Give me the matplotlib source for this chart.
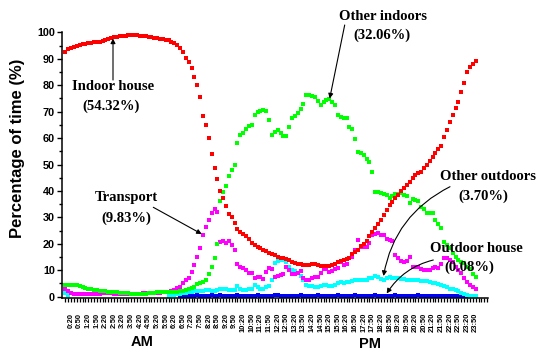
import numpy as np
import matplotlib
matplotlib.use("Agg")
import matplotlib.pyplot as plt

nan = np.nan

# 10-minute slots, 0:00 .. 23:50 (144 slots)
slot_minutes = list(range(0, 1440, 10))
label_slots = list(range(2, 144, 3))  # 0:20, 0:50, ... 23:50
tick_labels = ["%d:%02d" % (slot_minutes[i] // 60, slot_minutes[i] % 60) for i in label_slots]

indoor_house = [
    92.7, 93.5, 94.0, 94.5, 94.8, 95.2, 95.5, 95.7, 95.9, 96.1,
    96.3, 96.4, 96.5, 96.8, 97.1, 97.4, 97.8, 98.1, 98.3, 98.5,
    98.6, 98.7, 98.8, 98.8, 98.8, 98.8, 98.7, 98.7, 98.6, 98.4,
    98.2, 98.0, 97.8, 97.6, 97.4, 97.2, 96.9, 96.4, 95.9, 95.3,
    94.2, 92.7, 90.3, 88.8, 86.5, 83.1, 80.1, 75.6, 68.4, 65.0,
    60.1, 54.0, 48.7, 44.4, 39.9, 37.2, 34.2, 31.4, 30.0, 27.8,
    25.5, 24.4, 23.7, 22.8, 22.0, 20.5, 19.4, 18.9, 18.3, 17.8,
    17.2, 16.6, 16.2, 15.8, 15.2, 14.8, 14.5, 14.1, 13.7, 13.3,
    12.9, 12.5, 12.3, 12.0, 11.9, 12.0, 12.2, 12.2, 12.0, 11.8,
    11.6, 11.7, 11.7, 11.9, 12.3, 13.0, 13.5, 13.8, 14.3, 14.8,
    16.0, 16.8, 17.8, 19.0, 19.8, 21.0, 22.8, 24.5, 26.0, 27.5,
    29.0, 31.0, 32.8, 34.5, 36.0, 37.5, 38.5, 39.8, 41.0, 42.2,
    43.5, 45.0, 46.0, 46.8, 47.3, 48.5, 49.8, 51.5, 53.0, 54.5,
    55.8, 57.0, 60.3, 63.0, 66.2, 68.8, 71.5, 73.8, 77.6, 80.8,
    84.8, 86.7, 88.1, 89.3]

other_indoors = [
    4.6, 4.5, 4.5, 4.4, 4.3, 4.0, 3.7, 3.4, 3.0, 2.8,
    2.6, 2.4, 2.2, 2.1, 2.0, 1.9, 1.8, 1.7, 1.6, 1.5,
    1.4, 1.3, 1.3, 1.2, 1.2, 1.2, 1.2, 1.2, 1.2, 1.3,
    1.4, 1.5, 1.6, 1.7, 1.8, 1.8, 1.8, 1.8, 1.8, 1.9,
    2.0, 2.2, 2.5, 2.8, 3.2, 3.8, 4.7, 5.0, 5.6, 6.5,
    8.4, 11.3, 14.8, 20.0, 36.3, 39.6, 41.9, 45.8, 47.9, 49.8,
    58.0, 61.2, 62.0, 63.3, 64.6, 64.8, 68.8, 70.0, 70.3, 70.6,
    70.4, 66.9, 61.2, 62.4, 63.1, 62.0, 60.8, 60.8, 64.3, 67.5,
    68.5, 69.4, 70.9, 73.0, 76.3, 76.3, 76.0, 75.7, 74.0, 72.5,
    73.5, 74.4, 74.7, 73.5, 72.5, 68.8, 68.0, 67.5, 67.5, 64.3,
    63.3, 59.5, 54.8, 54.5, 53.6, 52.0, 51.1, 47.3, 39.7, 39.5,
    39.1, 38.8, 38.4, 37.2, 38.0, 38.8, 39.0, 39.1, 38.5, 38.1,
    35.5, 36.8, 36.6, 36.3, 34.0, 33.0, 31.5, 31.5, 31.5, 29.0,
    27.5, 25.8, 20.8, 19.5, 18.3, 16.5, 15.2, 13.8, 13.2, 12.6,
    11.3, 10.5, 8.5, 7.5]

transport = [
    3.0, 2.0, 1.4, 1.2, 1.1, 1.0, 1.0, 1.1, 1.2, 1.2,
    1.2, 1.1, 1.2, 1.3, 1.4, 1.4, 1.3, 1.2, 1.2, 1.2,
    1.2, 1.2, 1.2, 1.2, 1.2, 1.2, 1.2, 1.3, 1.3, 1.3,
    1.4, 1.4, 1.5, 1.5, 1.6, 1.7, 1.8, 2.2, 2.7, 3.2,
    3.7, 5.0, 6.5, 7.0, 9.4, 11.9, 15.0, 18.3, 23.3, 26.4,
    29.2, 31.7, 33.0, 32.1, 20.8, 21.0, 20.4, 21.1, 19.5, 17.6,
    12.2, 11.3, 10.7, 10.0, 8.8, 8.8, 6.9, 7.3, 7.5, 6.6,
    9.4, 10.7, 10.5, 7.5, 7.9, 8.1, 8.4, 11.1, 10.0, 8.6,
    8.4, 8.8, 9.6, 7.2, 6.2, 6.5, 7.0, 7.3, 7.5, 8.8,
    10.5, 10.3, 9.2, 9.8, 10.5, 10.7, 13.0, 11.9, 12.5, 14.5,
    15.1, 17.6, 21.5, 18.7, 18.9, 18.9, 20.5, 23.3, 23.6, 24.0,
    23.5, 23.3, 22.0, 21.4, 21.0, 15.7, 14.5, 13.5, 13.2, 13.5,
    15.0, 11.3, 11.3, 11.3, 10.5, 10.0, 10.0, 10.2, 11.0, 11.3,
    10.7, 12.5, 14.5, 14.5, 14.0, 13.2, 11.3, 10.0, 8.8, 7.0,
    5.5, 4.4, 3.5, 3.1]

other_outdoors = [
    1.5, 0.6, nan, nan, nan, nan, nan, nan, nan, nan,
    nan, nan, nan, nan, nan, nan, nan, nan, nan, nan,
    nan, nan, nan, nan, nan, nan, nan, nan, nan, nan,
    nan, nan, nan, nan, nan, nan, 0.4, 0.6, 0.8, 1.0,
    1.2, 1.4, 1.5, 1.6, 1.8, 2.0, 2.1, 2.2, 2.3, 2.5,
    2.7, 2.3, 2.1, 2.6, 3.1, 3.1, 3.1, 2.7, 2.5, 2.7,
    4.0, 2.9, 2.6, 2.5, 2.8, 3.1, 4.4, 3.8, 3.1, 3.1,
    3.5, 4.0, 6.2, 12.6, 13.4, 13.8, 14.0, 13.2, 11.1, 10.0,
    9.6, 9.0, 8.0, 6.2, 4.4, 4.2, 4.0, 3.8, 3.7, 4.2,
    4.4, 4.3, 4.1, 4.0, 4.5, 5.2, 5.4, 5.0, 5.6, 5.5,
    6.0, 6.2, 6.3, 6.3, 6.5, 6.5, 6.9, 7.2, 7.8, 7.4,
    6.6, 6.5, 7.0, 7.3, 7.2, 7.0, 6.9, 6.8, 6.6, 6.5,
    6.5, 6.4, 6.5, 6.3, 6.1, 6.0, 5.8, 5.5, 5.2, 5.0,
    4.7, 4.4, 4.0, 3.5, 3.1, 2.8, 2.4, 2.0, 1.5, 1.0,
    0.6, 0.4, 0.2, 0.1]

outdoor_house = [
    nan, nan, nan, nan, nan, nan, nan, nan, nan, nan,
    nan, nan, nan, nan, nan, nan, nan, nan, nan, nan,
    nan, nan, nan, nan, nan, nan, nan, nan, nan, nan,
    nan, nan, nan, nan, nan, nan, nan, nan, nan, nan,
    0.3, 0.3, 0.4, 0.4, 0.3, 0.4, 0.5, 0.4, 0.4, 0.3,
    0.4, 0.5, 0.4, 0.4, 0.5, 0.4, 0.4, 0.3, 0.4, 0.4,
    0.5, 0.4, 0.4, 0.4, 0.3, 0.4, 0.4, 0.5, 0.4, 0.4,
    0.4, 0.3, 0.4, 0.5, 0.5, 0.4, 0.4, 0.4, 0.3, 0.4,
    0.4, 0.4, 0.5, 0.4, 0.3, 0.4, 0.4, 0.4, 0.5, 0.4,
    0.4, 0.3, 0.4, 0.4, 0.4, 0.5, 0.4, 0.4, 0.3, 0.4,
    0.4, 0.5, 0.4, 0.4, 0.4, 0.3, 0.4, 0.4, 0.5, 0.4,
    0.4, 0.4, 0.3, 0.4, 0.4, 0.5, 0.4, 0.4, 0.4, 0.3,
    0.4, 0.4, 0.4, 0.5, 0.4, 0.4, 0.3, 0.3, 0.3, 0.3,
    0.3, 0.3, 0.3, 0.2, 0.2, 0.2, 0.2, 0.2, 0.1, 0.1,
    0.1, 0.1, 0.1, 0.1]

series = [
    ("Outdoor house", outdoor_house, "#0000FF"),
    ("Other outdoors", other_outdoors, "#00FFFF"),
    ("Transport", transport, "#FF00FF"),
    ("Other indoors", other_indoors, "#00FF00"),
    ("Indoor house", indoor_house, "#FF0000"),
]

plt.rcParams['font.family'] = ['Liberation Sans', 'DejaVu Sans']

W, H = 538, 352
fig = plt.figure(figsize=(W / 100, H / 100), dpi=100)
ax = fig.add_axes([62 / W, 1 - 297.5 / H, (488 - 62) / W, (297.5 - 32.3) / H])

x = np.arange(len(slot_minutes))
for i, (name, vals, col) in enumerate(series):
    ax.plot(x, vals, linestyle='none', marker='s', markersize=3.3,
            color=col, markeredgewidth=0, zorder=2 + i)

ax.set_xlim(-1.15, 147.3)
ax.set_ylim(-0.3, 100)

for s in ['top', 'right']:
    ax.spines[s].set_visible(False)
for s in ['left', 'bottom']:
    ax.spines[s].set_linewidth(1.1)
    ax.spines[s].set_zorder(20)

ax.set_yticks(np.arange(0, 101, 10))
ax.set_yticks(np.arange(5, 100, 10), minor=True)
ax.tick_params(axis='y', which='major', length=3.5, width=1.0, pad=1.5,
               labelsize=7.8)
ax.tick_params(axis='y', which='minor', length=2.2, width=1.0)
for lab in ax.get_yticklabels():
    lab.set_fontweight('bold')

ax.set_xticks(label_slots)
ax.set_xticklabels(tick_labels, rotation=90, fontsize=5.4, fontweight='bold')
ax.set_xticks(np.arange(0, 148, 1), minor=True)
ax.tick_params(axis='x', which='both', length=2.8, width=0.9, pad=8)

fig.text(18 / W, 1 - 148 / H, "Percentage of time (%)", rotation=90,
         ha='center', va='center', fontsize=12, fontweight='bold')
fig.text(142.5 / W, 1 - 342.5 / H, "AM", ha='center', va='center',
         fontsize=10.5, fontweight='bold')
fig.text(370.5 / W, 1 - 344.5 / H, "PM", ha='center', va='center',
         fontsize=10.5, fontweight='bold')

serif = dict(family=['Liberation Serif', 'DejaVu Serif'], fontsize=10.5,
             fontweight='bold')

def ftxt(px, py, s):
    fig.text(px / W, 1 - py / H, s, ha='center', va='center', **serif)

ftxt(113.3, 86.5, "Indoor house")
ftxt(111.5, 106, "(54.32%)")
ftxt(382.7, 16, "Other indoors")
ftxt(382.0, 35.5, "(32.06%)")
ftxt(126.7, 197.5, "Transport")
ftxt(126.7, 218, "(9.83%)")
ftxt(487.5, 176.7, "Other outdoors")
ftxt(483.0, 196, "(3.70%)")
ftxt(476.8, 248.7, "Outdoor house")
ftxt(469.3, 267.5, "(0.08%)")

def arrow(x0, y0, x1, y1, rad=0.0):
    fig.add_artist(matplotlib.patches.FancyArrowPatch(
        (x0 / W, 1 - y0 / H), (x1 / W, 1 - y1 / H),
        transform=fig.transFigure, arrowstyle='-|>', mutation_scale=7,
        lw=0.8, color='black', connectionstyle="arc3,rad=%g" % rad,
        shrinkA=0, shrinkB=0, zorder=30))

arrow(113, 80, 113, 38.5)
arrow(344.7, 25, 329.7, 98.5)
arrow(153.3, 207.3, 201.7, 234)
arrow(450, 186.7, 383.5, 276, rad=0.25)
arrow(433.3, 260, 386.7, 293.5, rad=0.2)

fig.savefig("out.png", dpi=100)
